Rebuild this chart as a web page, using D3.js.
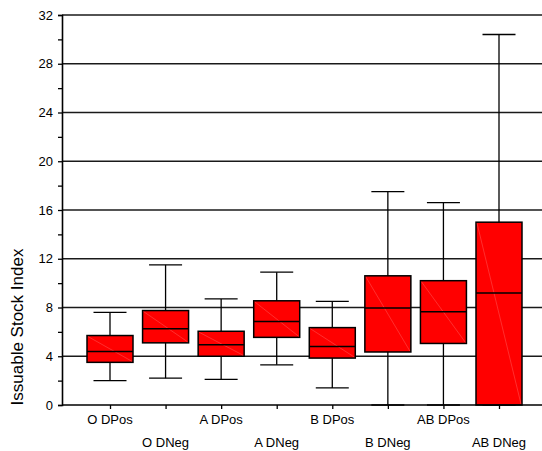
<!DOCTYPE html>
<html>
<head>
<meta charset="utf-8">
<script src="https://cdn.jsdelivr.net/npm/d3@7"></script>
<style>
  body { margin: 0; background: #fff; }
  svg text { font-family: "Liberation Sans", Arial, sans-serif; fill: #000; }
</style>
</head>
<body>
<div id="chart"></div>
<script>
// --------- DATA ---------
const categories = ["O DPos", "O DNeg", "A DPos", "A DNeg", "B DPos", "B DNeg", "AB DPos", "AB DNeg"];
const whiskerLow  = [2.0, 2.2, 2.1, 3.3, 1.4, 0, 0, 0];
const q1          = [3.5, 5.1, 4.0, 5.55, 3.85, 4.35, 5.05, 0];
const medians     = [4.4, 6.25, 4.95, 6.85, 4.8, 7.95, 7.65, 9.2];
const q3          = [5.7, 7.75, 6.05, 8.55, 6.35, 10.6, 10.2, 15.0];
const whiskerHigh = [7.6, 11.5, 8.7, 10.9, 8.5, 17.5, 16.6, 30.4];
const yTicks = [0, 4, 8, 12, 16, 20, 24, 28, 32];
const yMinorTicks = [2, 6, 10, 14, 18, 22, 26, 30];

const boxes = categories.map((c, i) => ({
    cat: c, lo: whiskerLow[i], q1: q1[i], med: medians[i], q3: q3[i], hi: whiskerHigh[i], i: i
}));

// --------- GRAPHING ---------
let width = 542, height = 451;
let plot = {left: 62, right: 542, top: 15, bottom: 405};

let svg = d3.select("#chart")
    .append("svg")
    .attr("width", width)
    .attr("height", height);

let yScale = d3.scaleLinear()
    .domain([0, 32])
    .range([plot.bottom, plot.top]);

let xScale = d3.scalePoint()
    .domain(categories)
    .range([110, 499]);

let boxW = 46, capW = 33;

// Gridlines
svg.append("g")
    .selectAll("line")
    .data(yTicks.filter(d => d > 0))
    .join("line")
    .attr("x1", plot.left)
    .attr("x2", plot.right)
    .attr("y1", d => yScale(d))
    .attr("y2", d => yScale(d))
    .attr("stroke", "#1a1a1a")
    .attr("stroke-width", 1.3);

// Boxes
let g = svg.append("g");

// whisker stems
g.selectAll(".stem")
    .data(boxes)
    .join("line")
    .attr("x1", d => xScale(d.cat))
    .attr("x2", d => xScale(d.cat))
    .attr("y1", d => yScale(d.lo))
    .attr("y2", d => yScale(d.hi))
    .attr("stroke", "#000")
    .attr("stroke-width", 1.3);

// caps
["lo", "hi"].forEach(k => {
    g.selectAll(".cap-" + k)
        .data(boxes)
        .join("line")
        .attr("x1", d => xScale(d.cat) - capW / 2)
        .attr("x2", d => xScale(d.cat) + capW / 2)
        .attr("y1", d => yScale(d[k]))
        .attr("y2", d => yScale(d[k]))
        .attr("stroke", "#000")
        .attr("stroke-width", 1.3);
});

g.selectAll(".box")
    .data(boxes)
    .join("rect")
    .attr("x", d => xScale(d.cat) - boxW / 2)
    .attr("y", d => yScale(d.q3))
    .attr("width", boxW)
    .attr("height", d => yScale(d.q1) - yScale(d.q3))
    .attr("fill", "#ff0000")
    .attr("stroke", "#000")
    .attr("stroke-width", 1.5);

// faint diagonal inside boxes
g.selectAll(".diag")
    .data(boxes)
    .join("line")
    .attr("x1", d => xScale(d.cat) - boxW / 2 + 1)
    .attr("x2", d => xScale(d.cat) + boxW / 2 - 1)
    .attr("y1", d => yScale(d.q3) + 1)
    .attr("y2", d => yScale(d.q1) - 1)
    .attr("stroke", "#ff9999")
    .attr("stroke-opacity", 0.6)
    .attr("stroke-width", 0.5);

g.selectAll(".median")
    .data(boxes)
    .join("line")
    .attr("x1", d => xScale(d.cat) - boxW / 2)
    .attr("x2", d => xScale(d.cat) + boxW / 2)
    .attr("y1", d => yScale(d.med))
    .attr("y2", d => yScale(d.med))
    .attr("stroke", "#000")
    .attr("stroke-width", 1.5);

// Y axis
let yAxis = d3.axisLeft(yScale)
    .tickValues(yTicks)
    .tickSize(4)
    .tickPadding(5)
    .tickFormat(d3.format("d"));

let yg = svg.append("g")
    .attr("transform", "translate(" + plot.left + ",0)")
    .call(yAxis);
yg.select(".domain").attr("stroke", "#000").attr("stroke-width", 1.6);
yg.selectAll(".tick line").attr("stroke", "#000").attr("stroke-width", 1.3);
yg.selectAll(".tick text").attr("font-size", 13).attr("font-family", "Liberation Sans, Arial, sans-serif");

let yMinor = d3.axisLeft(yScale)
    .tickValues(yMinorTicks)
    .tickSize(4)
    .tickFormat("");
let ym = svg.append("g")
    .attr("transform", "translate(" + plot.left + ",0)")
    .call(yMinor);
ym.select(".domain").remove();
ym.selectAll(".tick line").attr("stroke", "#000").attr("stroke-width", 1.3);

// X axis
svg.append("line")
    .attr("x1", plot.left)
    .attr("x2", plot.right)
    .attr("y1", plot.bottom)
    .attr("y2", plot.bottom)
    .attr("stroke", "#000")
    .attr("stroke-width", 1.6);

let xg = svg.append("g")
    .attr("transform", "translate(0," + plot.bottom + ")")
    .call(d3.axisBottom(xScale).tickSize(4).tickFormat(""));
xg.select(".domain").remove();
xg.selectAll(".tick line").attr("stroke", "#000").attr("stroke-width", 1.3);

svg.append("g")
    .selectAll("text")
    .data(boxes)
    .join("text")
    .attr("x", d => xScale(d.cat))
    .attr("y", d => d.i % 2 === 0 ? 424 : 447)
    .attr("text-anchor", "middle")
    .attr("font-size", 13)
    .text(d => d.cat);

// Axis title
svg.append("text")
    .attr("transform", "translate(23,327) rotate(-90)")
    .attr("text-anchor", "middle")
    .attr("font-size", 17)
    .text("Issuable Stock Index");
</script>
</body>
</html>
